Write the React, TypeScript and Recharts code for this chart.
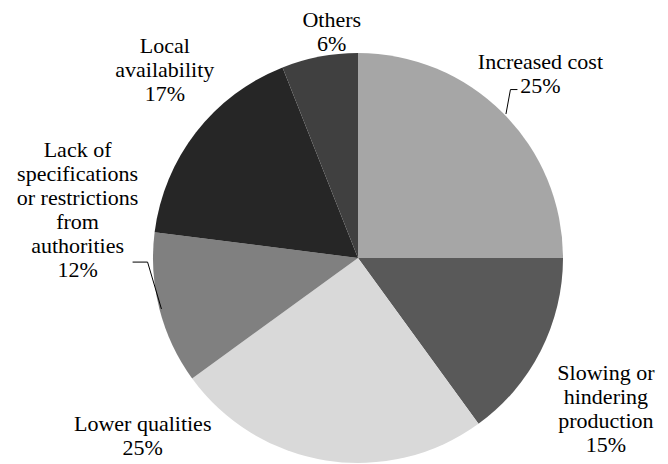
import React from "react";
import { PieChart, Pie, Cell } from "recharts";

const categories = [
  "Increased cost",
  "Slowing or hindering production",
  "Lower qualities",
  "Lack of specifications or restrictions from authorities",
  "Local availability",
  "Others",
];
const values = [25, 15, 25, 12, 17, 6];
const labelLines = [
  ["Increased cost", "25%"],
  ["Slowing or", "hindering", "production", "15%"],
  ["Lower qualities", "25%"],
  ["Lack of", "specifications", "or restrictions", "from", "authorities", "12%"],
  ["Local", "availability", "17%"],
  ["Others", "6%"],
];
const colors = ["#a6a6a6", "#595959", "#d9d9d9", "#808080", "#262626", "#404040"];

// label layout: offset from point at 1.1*outerRadius along mid angle
const labelOffsets = [
  [23, -25],
  [47, 48],
  [-180, -45],
  [-62, -105],
  [-15, -50],
  [16, -5],
];

const data = categories.map((name, i) => ({ name, value: values[i] }));

const RAD = Math.PI / 180;
const FONT = '"Liberation Serif", "Times New Roman", serif';
const LINE_H = 24;
const CX = 358;
const CY = 258;
const OUTER = 205;
const START = 90;

const total = values.reduce((a, b) => a + b, 0);
const midAngles = values.map((v, i) => {
  const before = values.slice(0, i).reduce((a, b) => a + b, 0);
  return START - ((before + v / 2) / total) * 360;
});

function Labels() {
  return (
    <svg
      width={668}
      height={464}
      style={{ position: "absolute", left: 0, top: 0, pointerEvents: "none" }}
    >
      {midAngles.map((midAngle, index) => {
        const r = OUTER * 1.1;
        const px = CX + r * Math.cos(-midAngle * RAD);
        const py = CY + r * Math.sin(-midAngle * RAD);
        const [dx, dy] = labelOffsets[index];
        const x = px + dx;
        const y = py + dy;
        const lines = labelLines[index];
        const top = y - ((lines.length - 1) * LINE_H) / 2;
        const ex = CX + OUTER * Math.cos(-midAngle * RAD);
        const ey = CY + OUTER * Math.sin(-midAngle * RAD);
        let leader = null;
        if (index === 0) {
          const ly = top + LINE_H + 4;
          leader = (
            <polyline
              points={`${ex + 3},${ey + 1} ${x - 30},${ly} ${x - 23},${ly}`}
              fill="none"
              stroke="#000"
              strokeWidth={1}
            />
          );
        }
        if (index === 3) {
          const ly = top + 4 * LINE_H + 17;
          leader = (
            <polyline
              points={`${ex + 2},${ey} ${x + 70},${ly} ${x + 55},${ly}`}
              fill="none"
              stroke="#000"
              strokeWidth={1}
            />
          );
        }
        return (
          <g key={`lbl-${index}`}>
            {leader}
            {lines.map((l, i) => (
              <text
                key={i}
                x={x}
                y={top + i * LINE_H}
                textAnchor="middle"
                dominantBaseline="central"
                fontFamily={FONT}
                fontSize={22}
                fill="#000"
              >
                {l}
              </text>
            ))}
          </g>
        );
      })}
    </svg>
  );
}

export default function App() {
  return (
    <div style={{ position: "absolute", left: 0, top: 0, width: 668, height: 464, background: "#fff" }}>
      <PieChart width={668} height={464} margin={{ top: 0, right: 0, bottom: 0, left: 0 }}>
        <Pie
          data={data}
          dataKey="value"
          nameKey="name"
          cx={CX}
          cy={CY}
          outerRadius={OUTER}
          startAngle={START}
          endAngle={START - 360}
          stroke="none"
          isAnimationActive={false}
          label={false}
          labelLine={false}
        >
          {data.map((d, i) => (
            <Cell key={d.name} fill={colors[i]} />
          ))}
        </Pie>
      </PieChart>
      <Labels />
    </div>
  );
}
